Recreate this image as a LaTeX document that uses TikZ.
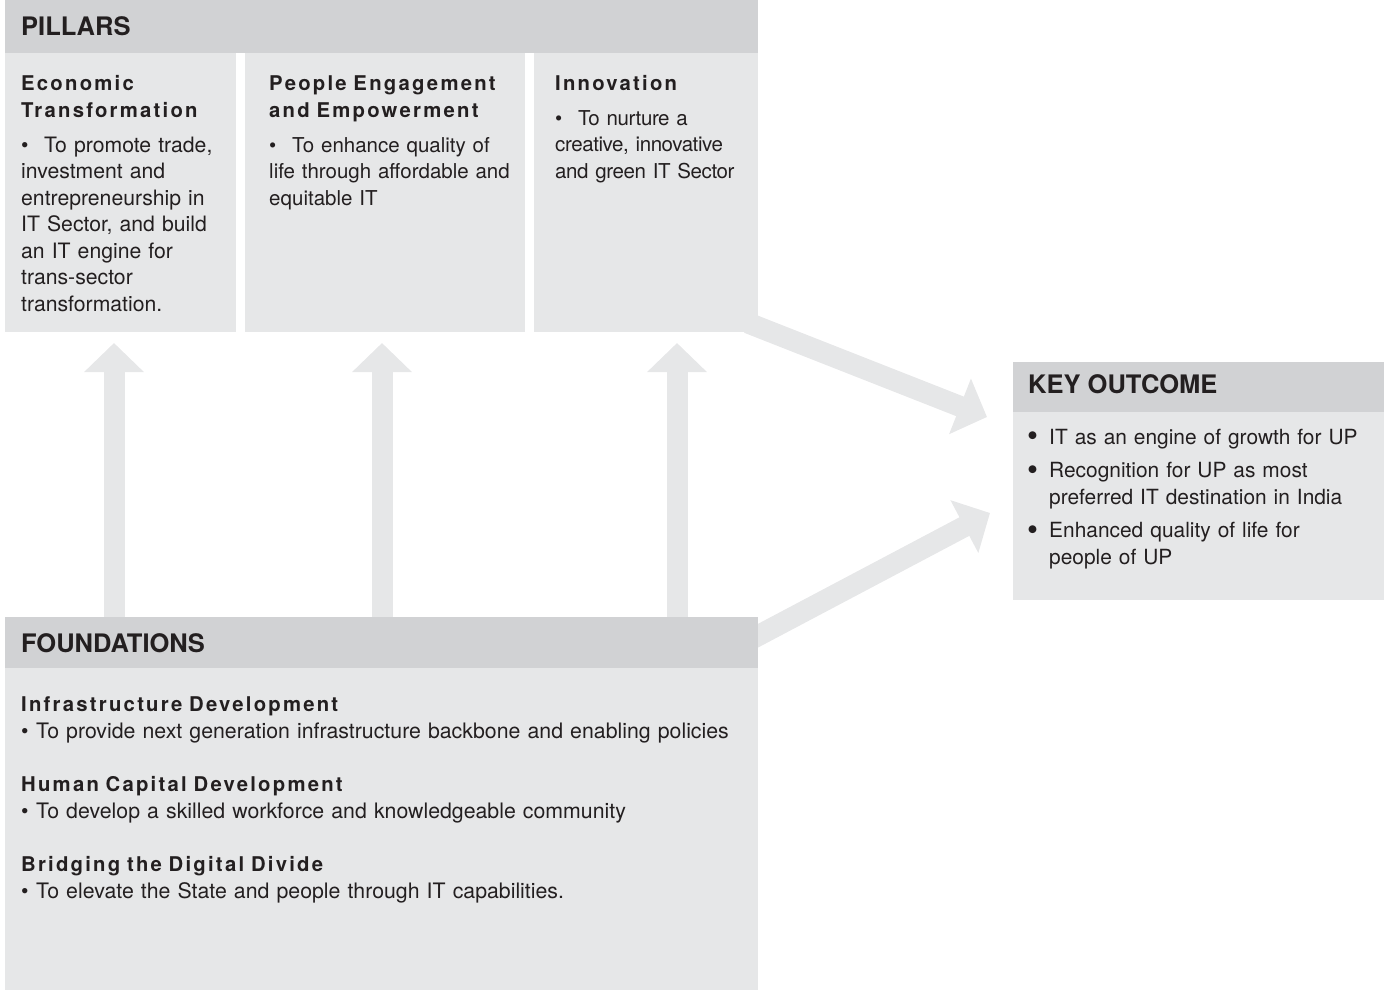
\documentclass[tikz,border=0pt]{standalone}
\usepackage{fontspec}
\setmainfont{TeX Gyre Heros}
\newfontfamily\trackedfont[LetterSpace=11]{TeX Gyre Heros}
\newfontfamily\tightfont[LetterSpace=-2]{TeX Gyre Heros}
\usepackage{xcolor}
\usepackage{tikz}
\usetikzlibrary{arrows.meta}
\usetikzlibrary{positioning}
\usetikzlibrary{calc}
\pgfdeclarelayer{bg}
\pgfsetlayers{bg,main}

\definecolor{headgray}{HTML}{D1D2D4}
\definecolor{panelgray}{HTML}{E6E7E8}
\definecolor{inkgray}{HTML}{231F20}

\tikzset{
	headbar/.style={anchor=north west, fill=headgray, inner sep=0pt, outer sep=0pt},
	panel/.style={anchor=north west, fill=panelgray, inner sep=0pt, outer sep=0pt},
	title/.style={anchor=base west, inner sep=0pt, text=inkgray, font=\fontsize{25.5}{30}\selectfont\bfseries},
	subhead/.style={anchor=base west, inner sep=0pt, text=inkgray, text width=320pt, align=left, font=\trackedfont\fontsize{20.3}{27}\selectfont\bfseries},
	bodytext/.style={anchor=base west, inner sep=0pt, text=inkgray, text width=740pt, align=left, font=\fontsize{#1}{26.5}\selectfont},
	bodytext/.default=20.5,
	tighttext/.style={bodytext, font=\tightfont\fontsize{20.5}{26.5}\selectfont},
	bigarrow/.style={draw=panelgray, line width=21pt, -{Triangle[width=58pt, length=29pt]}},
}
\newcommand\pbul{\makebox[23pt][l]{\textbullet}}
\newcommand\fbul{\makebox[15pt][l]{\textbullet}}
\newcommand\obul{\makebox[22pt][l]{\raisebox{-2.5pt}{\scalebox{1.5}{\textbullet}}}}

\begin{document}
\begin{tikzpicture}[x=1pt, y=-1pt]
	\useasboundingbox (0,0) rectangle (1384,990);
	% pillars
	\node[headbar, minimum width=753pt, minimum height=53pt] (pillars) at (5,0) {};
	\node[panel, minimum width=231pt, minimum height=279pt] (econ)   at (5,53)   {};
	\node[panel, minimum width=280pt, minimum height=279pt] (people) at (245,53) {};
	\node[panel, minimum width=224pt, minimum height=279pt] (innov)  at (534,53) {};
	\node[title] (pillarsTitle) at (21,36) {PILLARS};
	\node[subhead]  (econHead)   at (21,90)   {Economic\\Transformation};
	\node[bodytext=21.2] (econText) at (21,152) {\pbul To promote trade,\\investment and\\entrepreneurship in\\IT Sector, and build\\an IT engine for\\trans-sector\\transformation.};
	\node[subhead]  (peopleHead) at (269,90)  {People Engagement\\and Empowerment};
	\node[bodytext] (peopleText) at (269,152) {\pbul To enhance quality of\\life through affordable and\\equitable IT};
	\node[subhead]  (innovHead)  at (555,90)  {Innovation};
	\node[tighttext] (innovText) at (555,125) {\pbul To nurture a\\creative, innovative\\and green IT Sector};

	% foundations
	\node[headbar, minimum width=753pt, minimum height=51pt]  (found)     at (5,617) {};
	\node[panel,   minimum width=753pt, minimum height=322pt] (foundBody) at (5,668) {};
	\node[title] (foundTitle) at (21,652) {FOUNDATIONS};
	\node[subhead]  (infraHead)  at (21,711) {Infrastructure Development};
	\node[bodytext=21.3] (infraText)  at (21,738) {\fbul To provide next generation infrastructure backbone and enabling policies};
	\node[subhead]  (humanHead)  at (21,791) {Human Capital Development};
	\node[bodytext=21.3] (humanText)  at (21,818) {\fbul To develop a skilled workforce and knowledgeable community};
	\node[subhead]  (digitalHead) at (21,871) {Bridging the Digital Divide};
	\node[bodytext=21.3] (digitalText) at (21,898) {\fbul To elevate the State and people through IT capabilities.};

	% key outcome
	\node[headbar, minimum width=371pt, minimum height=50pt]  (outcome)     at (1013,362) {};
	\node[panel,   minimum width=371pt, minimum height=188pt] (outcomeBody) at (1013,412) {};
	\node[title] (outcomeTitle) at (1028,393) {KEY OUTCOME};
	\node[bodytext=20.9] (outcomeText) at (1027,444) {\obul IT as an engine of growth for UP\\[7pt]\obul Recognition for UP as most\\\hspace*{22pt}preferred IT destination in India\\[7pt]\obul Enhanced quality of life for\\\hspace*{22pt}people of UP};

	% arrows behind the boxes
	\begin{pgfonlayer}{bg}
		\draw[bigarrow, shorten >=11pt] (found.north -| 114,0) -- (econ.south -| 114,0);
		\draw[bigarrow, shorten >=11pt] (found.north -| 382,0) -- (people.south -| 382,0);
		\draw[bigarrow, shorten >=11pt] (found.north -| 677,0) -- (innov.south -| 677,0);
		\draw[bigarrow] ($(innov.south east)+(-10,-9)$) -- ($(outcome.north west)+(-26,55)$);
		\draw[bigarrow] ($(found.north east)+(-10,24)$) -- ($(outcome.north west)+(-23,151)$);
	\end{pgfonlayer}
\end{tikzpicture}
\end{document}
